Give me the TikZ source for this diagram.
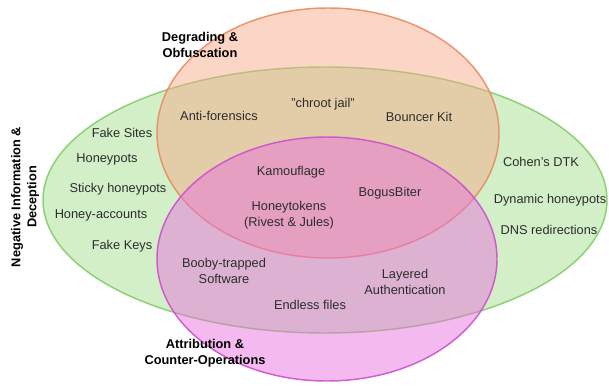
\documentclass[tikz,border=0pt]{standalone}
\usepackage{fontspec}
\setmainfont{Liberation Sans}
\definecolor{deceptgreen}{RGB}{160,222,138}
\definecolor{deceptedge}{RGB}{130,205,105}
\definecolor{degradeorange}{RGB}{246,168,136}
\definecolor{degradeedge}{RGB}{232,140,100}
\definecolor{attribpink}{RGB}{232,110,222}
\definecolor{attribedge}{RGB}{205,80,205}
\definecolor{itemgray}{RGB}{45,45,45}
\tikzset{every picture/.style={line width=0.75pt}}
\tikzset{
setshape/.style={line width=1.1, fill opacity=0.48, draw opacity=0.9},
item/.style={text=itemgray, font=\fontsize{9.6}{12}\selectfont, align=center, inner sep=0pt},
settitle/.style={item, text=black, font=\fontsize{9.6}{12}\selectfont\bfseries}}

\begin{document}
\begin{tikzpicture}[x=0.75pt,y=0.75pt,yscale=-1,xscale=1]
\useasboundingbox (0,0) rectangle (609,385);

%Shape: Ellipse (negative information)
\draw [setshape, draw=deceptedge, fill=deceptgreen] (325,200) ellipse (282 and 133);
%Shape: Ellipse (degrading)
\draw [setshape, draw=degradeedge, fill=degradeorange] (328,133) ellipse (171 and 125);
%Shape: Ellipse (attribution)
\draw [setshape, draw=attribedge, fill=attribpink] (327,259) ellipse (170 and 122);

%Set titles
\node [settitle] (degtitle) at (200,45) {Degrading \&\\Obfuscation};
\node [settitle] (attrtitle) at (205,353) {Attribution \&\\Counter-Operations};
\node [settitle, rotate=90] (negtitle) at (25,197) {Negative Information \&\\Deception};

%Negative information only
\node [item] (fakesites) at (122,133) {Fake Sites};
\node [item] (honeypots) at (107,159) {Honeypots};
\node [item] (sticky) at (118,189) {Sticky honeypots};
\node [item] (accounts) at (101,215) {Honey-accounts};
\node [item] (fakekeys) at (122,246) {Fake Keys};
\node [item] (cohen) at (541,162) {Cohen\char"0027 s DTK};
\node [item] (dynamic) at (550,200) {Dynamic honeypots};
\node [item] (dns) at (549,230) {DNS redirections};

%Negative information and degrading
\node [item] (antiforensics) at (219,116) {Anti-forensics};
\node [item] (chroot) at (323,104) {"chroot jail"};
\node [item] (bouncer) at (419,117) {Bouncer Kit};

%All three
\node [item] (kamouflage) at (291,172) {Kamouflage};
\node [item] (bogusbiter) at (390,193) {BogusBiter};
\node [item] (honeytokens) at (289,215) {Honeytokens\\(Rivest \& Jules)};

%Negative information and attribution
\node [item] (booby) at (224,271) {Booby-trapped\\Software};
\node [item] (layered) at (405,282) {Layered\\Authentication};
\node [item] (endless) at (310,305) {Endless files};
\end{tikzpicture}
\end{document}
